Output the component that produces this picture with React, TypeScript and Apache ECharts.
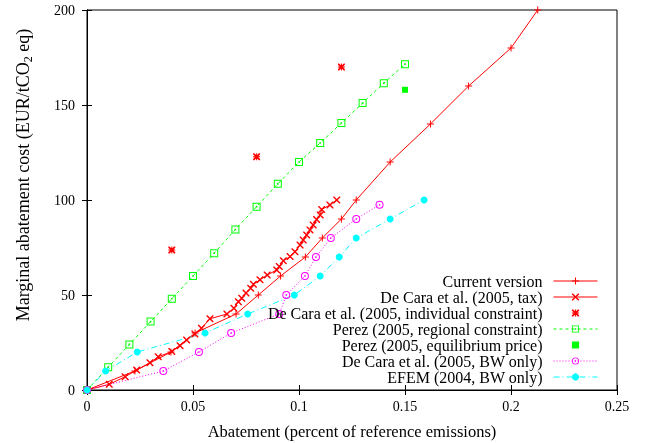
import React, { useEffect, useRef } from "react";
import * as echarts from "echarts";

// Current version (price steps)
const currentX = [0, 0.0226, 0.0396, 0.051, 0.0703, 0.0808, 0.0913, 0.103, 0.111, 0.12, 0.127, 0.143, 0.162, 0.18, 0.2, 0.2126];
const currentY = [0, 10, 20, 30, 40, 50, 60, 70, 80, 90, 100, 120, 140, 160, 180, 200];

// De Cara et al. (2005, tax)
const taxX = [0, 0.0105, 0.018, 0.0234, 0.0297, 0.0336, 0.04, 0.0439, 0.047, 0.0509, 0.054, 0.058, 0.066, 0.0693, 0.0714, 0.073, 0.075, 0.0772, 0.0785, 0.0816, 0.085, 0.0895, 0.0907, 0.0926, 0.0958, 0.0981, 0.1005, 0.102, 0.1036, 0.1052, 0.1067, 0.1083, 0.11, 0.1107, 0.1146, 0.1178];
const taxY = [0, 3, 7, 10.5, 14.4, 17.5, 20.2, 23.3, 26.3, 29.5, 32.5, 37.5, 40, 43, 46.5, 48.3, 51, 53.5, 55.6, 58, 60.5, 63.2, 65, 68, 70.2, 72.8, 76.3, 79, 81.6, 84.2, 86.8, 89.8, 92.1, 95, 97.4, 100];

// De Cara et al. (2005, individual constraint)
const indivX = [0.04, 0.08, 0.12];
const indivY = [73.7, 122.8, 170];

// Perez (2005, regional constraint)
const perezX = [0, 0.01, 0.02, 0.03, 0.04, 0.05, 0.06, 0.07, 0.08, 0.09, 0.1, 0.11, 0.12, 0.13, 0.14, 0.15];
const perezY = [0, 12, 24, 36, 48, 60, 72, 84.5, 96.5, 108.5, 120, 130, 140.5, 151, 161.5, 171.5];

// Perez (2005, equilibrium price)
const eqX = [0.15];
const eqY = [158];

// De Cara et al. (2005, BW only)
const bwX = [0, 0.036, 0.0528, 0.068, 0.0907, 0.094, 0.1028, 0.108, 0.115, 0.127, 0.138];
const bwY = [0, 10, 20, 30, 40, 50, 60, 70, 80, 90, 97.5];

// EFEM (2004, BW only)
const efemX = [0, 0.0088, 0.0237, 0.0557, 0.0758, 0.0978, 0.11, 0.119, 0.127, 0.143, 0.159];
const efemY = [0, 10, 20, 30, 40, 50, 60, 70, 80, 90, 100];

const seriesNames = [
  "Current version",
  "De Cara et al. (2005, tax)",
  "De Cara et al. (2005, individual constraint)",
  "Perez (2005, regional constraint)",
  "Perez (2005, equilibrium price)",
  "De Cara et al. (2005, BW only)",
  "EFEM (2004, BW only)",
];

const xTicks = { min: 0, max: 0.25, interval: 0.05 };
const yTicks = { min: 0, max: 200, interval: 50 };

const FONT = "'Liberation Serif', 'Times New Roman', serif";

const PLUS = "path://M0,3H7V4H0Z M3,0H4V7H3Z";
const CROSS = "path://M0,0H1L7,6V7H6L0,1Z M6,0H7V1L1,7H0V6Z";
const STAR = "path://M0,3H7V4H0Z M3,0H4V7H3Z M0,0H1.2L7,5.8V7H5.8L0,1.2Z M5.8,0H7V1.2L1.2,7H0V5.8Z";
const SQDOT = "path://M0,0H8V8H0Z M1,1V7H7V1Z M3.2,3.2H4.8V4.8H3.2Z";
const CIRDOT = "path://M4,0A4,4,0,1,1,4,8A4,4,0,1,1,4,0Z M4,1A3,3,0,1,0,4,7A3,3,0,1,0,4,1Z M3.3,3.3H4.7V4.7H3.3Z";

const zip = (xs: number[], ys: number[]) => xs.map((x, i) => [x, ys[i]]);

export default function App() {
  const ref = useRef<HTMLDivElement>(null);
  useEffect(() => {
    if (!ref.current) return;
    const chart = echarts.init(ref.current, undefined, { renderer: "svg" });
    const mk = (
      name: string,
      xs: number[],
      ys: number[],
      color: string,
      symbol: string,
      symbolSize: number,
      lineType: any,
      lineWidth: number
    ) => ({
      name,
      type: "line",
      data: zip(xs, ys),
      symbol,
      symbolSize,
      showSymbol: true,
      clip: false,
      itemStyle: { color, borderWidth: 0 },
      lineStyle: { color, width: lineWidth, type: lineType },
      emphasis: { disabled: true },
    });
    const axisCommon = {
      type: "value",
      axisLine: { show: true, lineStyle: { color: "#000", width: 1 } },
      axisTick: { show: true, inside: true, length: 5, lineStyle: { color: "#000" } },
      splitLine: { show: false },
    };
    chart.setOption({
      animation: false,
      grid: { left: 87, right: 28, top: 10, bottom: 53, show: true, borderColor: "#000", borderWidth: 1, outerBoundsMode: "none" },
      xAxis: [
        {
          ...axisCommon,
          ...xTicks,
          position: "bottom",
          axisLabel: { color: "#000", fontFamily: FONT, fontSize: 14, margin: 9 },
          name: "Abatement (percent of reference emissions)",
          nameLocation: "middle",
          nameGap: 33,
          nameTextStyle: { color: "#000", fontFamily: FONT, fontSize: 16.5 },
        },
        { ...axisCommon, ...xTicks, position: "top", axisLabel: { show: false } },
      ],
      yAxis: [
        {
          ...axisCommon,
          ...yTicks,
          position: "left",
          axisLabel: { color: "#000", fontFamily: FONT, fontSize: 14, margin: 12 },
        },
        { ...axisCommon, ...yTicks, position: "right", axisLabel: { show: false } },
      ],
      graphic: [
        {
          type: "text",
          x: 23,
          y: 175,
          rotation: Math.PI / 2,
          style: {
            text: "Marginal abatement cost (EUR/tCO{sub|2} eq)",
            fill: "#000",
            font: `18px ${FONT}`,
            fontFamily: FONT,
            fontSize: 18,
            align: "center",
            verticalAlign: "middle",
            rich: { sub: { fontSize: 12, fontFamily: FONT, fill: "#000", padding: [9, 0, 0, 0] } },
          },
        },
      ],
      legend: {
        orient: "vertical",
        align: "right",
        right: 47,
        top: 273,
        padding: 0,
        itemWidth: 44,
        itemHeight: 9,
        itemGap: 0,
        selectedMode: false,
        textStyle: { color: "#000", fontFamily: FONT, fontSize: 16, lineHeight: 16, padding: [0, 6, 0, 0] },
        data: seriesNames.map((n, i) => ({ name: n, lineStyle: { width: i === 2 || i === 4 ? 0 : 1 } })),
      },
      series: [
        mk(seriesNames[0], currentX, currentY, "#ff0000", PLUS, 7, "solid", 1),
        mk(seriesNames[1], taxX, taxY, "#ff0000", CROSS, 7, "solid", 1),
        mk(seriesNames[2], indivX, indivY, "#ff0000", STAR, 7, "solid", 0),
        mk(seriesNames[3], perezX, perezY, "#00ff00", SQDOT, 8, [3, 3], 1),
        mk(seriesNames[4], eqX, eqY, "#00ff00", "rect", 6, "solid", 0),
        mk(seriesNames[5], bwX, bwY, "#ff00ff", CIRDOT, 8, [1, 2], 1),
        mk(seriesNames[6], efemX, efemY, "#00ffff", "circle", 7, [6, 3, 1, 3], 1),
      ],
    });
    return () => chart.dispose();
  }, []);
  return <div ref={ref} style={{ position: "fixed", left: 0, top: 0, width: 645, height: 443 }} />;
}
